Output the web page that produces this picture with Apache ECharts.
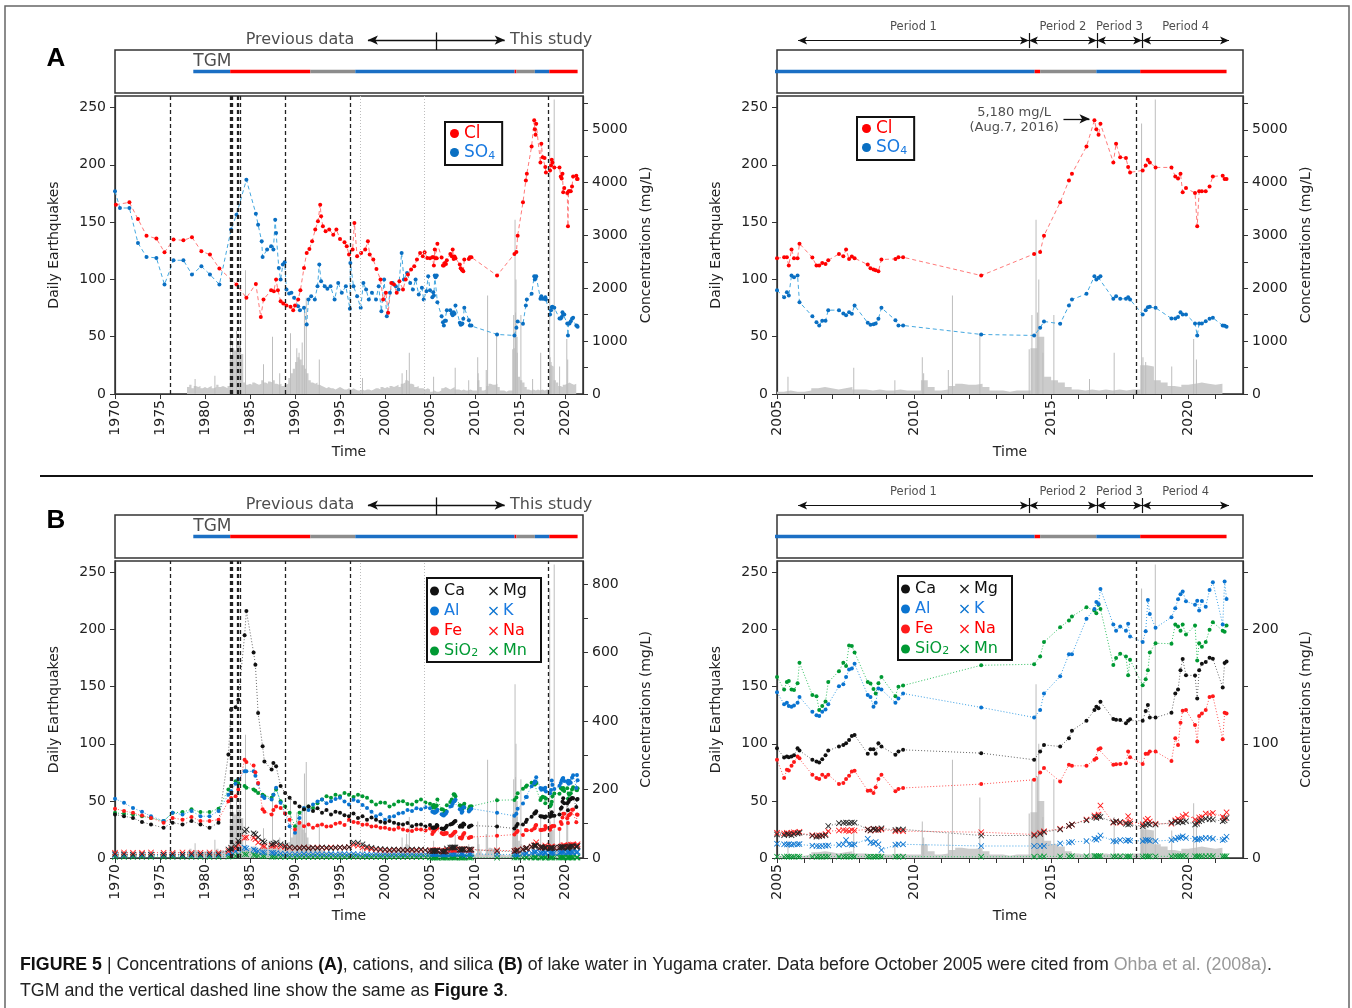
<!DOCTYPE html>
<html>
<head>
<meta charset="utf-8">
<script src="https://cdn.jsdelivr.net/npm/echarts@6/dist/echarts.min.js"></script>
<style>
html, body { margin: 0; padding: 0; background: #fff; }
#main { width: 1352px; height: 1008px; }
</style>
</head>
<body>
<div id="main"></div>
<script>
// ---- data ----
// sampling times after Oct 2005 (this study), shared by all species
var tNew = [2005.00, 2005.26, 2005.36, 2005.43, 2005.53, 2005.62, 2005.75, 2005.82,
  2006.29, 2006.44, 2006.54, 2006.65, 2006.77, 2006.87,
  2007.26, 2007.42, 2007.52, 2007.63, 2007.73, 2007.83,
  2008.31, 2008.41, 2008.52, 2008.60, 2008.70, 2008.81,
  2009.32, 2009.43, 2009.60,
  2012.45,
  2014.38, 2014.60, 2014.74,
  2015.33, 2015.65, 2015.76,
  2016.29, 2016.58, 2016.65, 2016.73, 2016.80,
  2017.27, 2017.37, 2017.52, 2017.73, 2017.81, 2017.88,
  2018.34, 2018.45, 2018.53, 2018.60, 2018.81,
  2019.39, 2019.53, 2019.63, 2019.72, 2019.80, 2019.92,
  2020.25, 2020.33, 2020.40, 2020.50, 2020.64, 2020.78, 2020.90,
  2021.26, 2021.33, 2021.40];

// anions (mg/L)
var clNew = [2569, 2588, 2588, 2431, 2733, 2569, 2569, 2846,
  2582, 2431, 2431, 2481, 2462, 2531,
  2651, 2607, 2733, 2557, 2600, 2569,
  2450, 2380, 2355, 2343, 2324, 2544,
  2557, 2588, 2588,
  2242,
  2651, 2689, 2997,
  3627, 4043, 4169,
  4685, 5180, 5012, 4905, 5113,
  4383, 4735, 4483, 4465, 4295, 4194,
  4232, 4326, 4433, 4383, 4288,
  4288, 4118, 4080, 4169, 3816, 3898,
  3803, 3174, 3835, 3835, 3835, 3929, 4118,
  4131, 4068, 4068];
var so4New = [1965, 1832, 1927, 1864, 2242, 2210, 2242, 1738,
  1473, 1360, 1297, 1385, 1385, 1587,
  1587, 1524, 1492, 1549, 1518, 1675,
  1348, 1310, 1320, 1335, 1423, 1631,
  1398, 1297, 1297,
  1127,
  1108, 1253, 1373,
  1329, 1675, 1788,
  1895, 2229, 2166, 2200, 2229,
  1801, 1851, 1801, 1801, 1832, 1788,
  1505, 1587, 1643, 1650, 1631,
  1429, 1429, 1455, 1549, 1505, 1505,
  1335, 1108, 1335, 1335, 1379, 1423, 1442,
  1297, 1290, 1272];

// previous data (Ohba et al.), anions
var tClPrev = [1970.1, 1971.6, 1972.55, 1973.5, 1974.6, 1975.5, 1976.5, 1977.6, 1978.55, 1979.6, 1980.55, 1981.6,
  1983.5, 1984.6, 1985.65, 1986.2, 1986.5, 1987.35, 1987.65, 1987.9, 1988.1, 1988.4, 1988.7, 1989.05, 1989.5, 1989.8,
  1990.0, 1990.35, 1990.6, 1991.0, 1991.3, 1991.6, 1991.9, 1992.25, 1992.55, 1992.8, 1992.9, 1993.1, 1993.4, 1993.8,
  1994.25, 1994.6, 1995.0, 1995.5, 1995.75, 1996.0, 1996.4, 1996.6, 1996.9, 1997.35, 1997.8, 1998.1, 1998.3, 1998.7,
  1999.05, 1999.5, 1999.8, 2000.1, 2000.35, 2000.7, 2001.0, 2001.3, 2001.6, 2002.0, 2002.3, 2002.55, 2002.9,
  2003.25, 2003.55, 2003.9, 2004.2, 2004.4, 2004.7];
var clPrev = [3583, 3627, 3312, 2997, 2941, 2683, 2922, 2909, 2966, 2701, 2638, 2374,
  2072, 1820, 2084, 1455, 1788, 1965, 1946, 2166, 1965, 1757, 1713, 1675, 1650, 1587,
  1675, 1788, 1965, 2387, 2670, 2745, 2890, 3111, 3268, 3583, 3363, 3174, 3079, 3111,
  3016, 3111, 2934, 2871, 2796, 2638, 2733, 3237, 2607, 2670, 2733, 2890, 2638, 2544,
  2368, 2166, 1788, 1914, 1536, 2103, 2072, 1914, 2135, 1977, 2166, 2261, 2355,
  2418, 2544, 2670, 2607, 2683, 2576];
var tSo4Prev = [1970.0, 1970.55, 1971.6, 1972.55, 1973.5, 1974.6, 1975.5, 1976.5, 1977.6, 1978.55, 1979.6, 1980.55, 1981.6,
  1982.9, 1983.5, 1984.6, 1985.65, 1985.9, 1986.3, 1986.4, 1986.9, 1987.35, 1987.6, 1987.8, 1987.9, 1988.2, 1988.4,
  1988.65, 1988.85, 1989.05, 1989.35, 1989.6, 1989.9, 1990.35, 1990.55, 1991.0, 1991.3, 1991.5, 1991.8, 1992.2,
  1992.5, 1992.7, 1992.9, 1993.3, 1993.6, 1993.95, 1994.4, 1994.8, 1995.2, 1995.65, 1996.1, 1996.15, 1996.5, 1996.9,
  1997.3, 1997.6, 1997.9, 1998.2, 1998.55, 1999.0, 1999.3, 1999.6, 1999.9, 2000.2, 2000.55, 2000.85, 2001.2, 2001.5,
  2001.85, 2002.1, 2002.45, 2002.8, 2003.1, 2003.4, 2003.75, 2004.1, 2004.3, 2004.6, 2004.8];
var so4Prev = [3835, 3520, 3520, 2859, 2594, 2576, 2072, 2531, 2531, 2261, 2418, 2261, 2072,
  3111, 3394, 4055, 3413, 3205, 2890, 2594, 2733, 2796, 2733, 3300, 3048, 2387, 2166,
  2450, 2494, 1977, 1902, 1914, 1820, 1662, 1587, 1631, 1316, 1788, 1851, 1788,
  2040, 2450, 2135, 2040, 1990, 2040, 1788, 2103, 1914, 2040, 1612, 2481, 2040, 1851,
  1631, 2103, 1977, 1788, 1914, 1788, 2040, 1568, 2166, 1473, 1914, 2103, 2040, 1977,
  2670, 2166, 2292, 2103, 1977, 2166, 1883, 2009, 1788, 1946, 2229];

// cations and silica (mg/L), this study
var caNew = [96, 88, 88.8, 88.3, 88.8, 90, 96, 94,
  86, 84.5, 83.6, 86.5, 90, 94,
  97.6, 99, 100.5, 103.4, 106.9, 107.7,
  91.2, 95.2, 95.2, 91.2, 100.5, 97.6,
  90.3, 93.2, 94.7,
  91.8,
  86, 93.2, 99,
  97.6, 104.8, 111.5,
  120.2, 129.5, 132.4, 131, 136.8,
  121.7, 121, 120.8, 117.9, 120.2, 121.4,
  120.2, 128.6, 133.9, 123, 123,
  127.2, 144, 147.5, 164.3, 174.2, 160,
  159.7, 139.7, 164.3, 170, 171.6, 175.4, 174.5,
  149.2, 170.7, 172];
var alNew = [145, 134.7, 135.9, 133, 132.4, 133.6, 136, 141,
  128, 125, 124.3, 128, 130, 134.7,
  150.4, 152, 158.5, 165, 165.8, 170,
  142.6, 141, 132.4, 135.9, 148.4, 147.5,
  135.9, 139.6, 144,
  131.8,
  123, 129.5, 144,
  159, 178.3, 178.3,
  209.4, 218, 224, 222.4, 235.5,
  204.4, 199, 202.7, 199, 205, 194,
  189, 198.6, 225.9, 213.7, 201.5,
  210.8, 218.6, 226.5, 231, 233.4, 224.7,
  221.8, 225.3, 216.6, 225, 220, 234.6, 241.3,
  204.4, 242, 226.8];
var feNew = [86, 70, 77.2, 76.7, 80.7, 84, 88.8, 87.4,
  72.9, 70, 69.1, 72.9, 71, 72.9,
  64.7, 65.6, 69.1, 72, 75.8, 76.4,
  58.9, 59.2, 56.9, 62, 69.1, 72.9,
  58.4, 60.4, 61.3,
  64.7,
  68.5, 74.9, 78.7,
  67, 81.6, 80.7,
  80.7, 86, 87.4, 95.2, 96,
  81.6, 82, 82.2, 83, 93.2, 88.3,
  82.2, 91.2, 91.2, 93.2, 93.2,
  85, 104.8, 99, 118.5, 129, 129.5,
  116.4, 101.9, 124.3, 126.6, 129.5, 141, 141.7,
  104, 127.2, 126.6];
var sio2New = [158.5, 147.5, 154, 155, 147.5, 147, 153, 171,
  142.6, 141.7, 129.5, 133, 137, 154,
  163.5, 171, 168, 186, 185.5, 180,
  154, 152.7, 148, 144, 153, 158.5,
  141.7, 150, 151,
  168.7,
  169.6, 176.5, 189,
  202, 208, 211.4,
  219.5, 216.6, 214.3, 221.8, 218,
  169, 175, 178.9, 176.5, 160, 173.6,
  151.3, 156.5, 164.3, 180, 188,
  187.6, 204.4, 202.7, 199, 204.4, 195.7,
  203.5, 173, 188, 185, 189, 199.8, 206.4,
  199, 198, 203.5];
var mgNew = [20.6, 20, 21, 20.5, 20, 21, 21.5, 22,
  19.5, 18.5, 19, 19.5, 20, 28,
  30.5, 30.8, 31, 30.5, 31, 30.8,
  25, 24, 25.5, 25, 24.5, 26,
  24.5, 25, 25,
  19.7,
  19.7, 21, 22.6,
  25, 28, 29.3,
  33, 36, 35, 36.5, 36,
  31.4, 32, 31.5, 30, 29.3, 30,
  27.9, 29, 30, 29.3, 29.3,
  30.8, 32, 31, 32, 31.4, 32.2,
  29.3, 30, 32.2, 33, 34.3, 34, 33.7,
  32.2, 33, 35];
var kNew = [12.5, 12, 11.8, 12, 11.5, 12, 12, 12.2,
  10.8, 10.5, 10.2, 10.5, 10.8, 11,
  11.5, 12, 15.7, 12, 11.5, 12,
  16.8, 13.4, 13, 14, 12, 7,
  11.5, 12, 12,
  10.5,
  10.5, 10.5, 10.5,
  12.8, 13.5, 14,
  14.8, 16.8, 16, 17.5, 19.7,
  14.8, 14.5, 15.7, 15, 15.7, 15,
  14.8, 15.7, 15.7, 15, 14.8,
  15.7, 16.5, 17.7, 18, 19, 17.5,
  16.8, 16, 16.5, 17, 17.7, 17.5, 16.8,
  15.7, 16.5, 18.6];
var naNew = [22, 21.5, 22, 21, 22, 22.5, 22, 23,
  20, 19.5, 19.7, 20, 21, 23.5,
  24, 24.5, 24, 23.5, 24.5, 24,
  25, 24, 25.5, 24.5, 25, 25,
  23.5, 24, 23.5,
  22.6,
  20.6, 22, 23.5,
  25.5, 28, 29.3,
  33.7, 37.2, 36, 38, 45.9,
  30.8, 32, 30.8, 31, 36.6, 32,
  29.5, 33, 34.3, 32, 30,
  30, 33, 34.3, 33, 36.6, 38,
  33.7, 32, 35.5, 36, 38.9, 38.5, 39.5,
  36, 35, 40];
var mnNew = [1.2, 1.1, 1.3, 1.2, 1.0, 1.2, 1.3, 1.2,
  1.1, 1.0, 1.2, 1.1, 1.2, 1.3,
  1.2, 1.3, 1.2, 1.1, 1.3, 1.2,
  1.2, 1.1, 1.0, 1.2, 1.3, 1.2,
  1.1, 1.2, 1.2,
  1.0,
  1.2, 1.3, 1.4,
  1.4, 1.5, 1.6,
  1.6, 1.8, 1.7, 1.8, 1.8,
  1.5, 1.4, 1.5, 1.4, 1.5, 1.4,
  1.3, 1.5, 1.4, 1.5, 1.4,
  1.5, 1.6, 1.5, 1.6, 1.7, 1.6,
  1.5, 1.4, 1.6, 1.5, 1.6, 1.7, 1.6,
  1.5, 1.6, 1.6];

// cations and silica, previous data
var tBPrev = [1970.0, 1971.0, 1972.0, 1973.0, 1974.0, 1975.4, 1976.4, 1977.5, 1978.5, 1979.5, 1980.5, 1981.5,
  1982.6, 1982.9, 1983.4, 1983.7, 1984.4, 1984.6, 1985.4, 1985.6, 1985.9, 1986.4, 1986.6, 1987.4, 1987.6, 1987.9, 1988.4, 1988.9, 1989.4,
  1990.0, 1990.5, 1991.0, 1991.5, 1992.0, 1992.5, 1993.0, 1993.5, 1994.0, 1994.5, 1995.0, 1995.5, 1996.0, 1996.5, 1997.0, 1997.5, 1998.0, 1998.5, 1999.0, 1999.5,
  2000.0, 2000.5, 2001.0, 2001.5, 2002.0, 2002.5, 2003.0, 2003.5, 2004.0, 2004.5];
var caPrev = [127, 122, 117, 105, 98, 88, 103, 98, 108, 98, 88, 103,
  302, 433, 440, 462, 650, 721, 600, 564, 423, 326, 282, 258, 277, 268, 210, 190, 176,
  161, 150, 142, 150, 137, 145, 132, 140, 127, 135, 132, 125, 122, 130, 117, 122, 112, 118, 112, 106,
  103, 108, 103, 99, 98, 102, 93, 97, 98, 92];
var alPrev = [173, 161, 146, 135, 122, 108, 132, 127, 137, 122, 122, 137,
  185, 195, 217, 230, 253, 253, 253, 240, 217, 180, 175, 171, 185, 205, 161, 130, 93,
  74, 117, 146, 140, 156, 165, 171, 160, 166, 172, 176, 165, 156, 170, 166, 155, 146, 135, 122, 128,
  112, 120, 122, 130, 132, 140, 137, 145, 142, 148];
var fePrev = [144, 137, 132, 124, 117, 103, 117, 112, 120, 108, 108, 112,
  166, 175, 180, 200, 287, 280, 270, 250, 219, 142, 135, 127, 140, 150, 146, 130, 112,
  83, 103, 93, 98, 88, 95, 98, 92, 93, 100, 103, 96, 112, 105, 103, 97, 98, 92, 93, 88,
  88, 85, 83, 88, 83, 80, 79, 84, 83, 80];
var sio2Prev = [132, 129, 127, 122, 117, 108, 132, 134, 142, 134, 134, 144,
  200, 210, 224, 218, 210, 205, 200, 196, 190, 185, 180, 176, 185, 200, 166, 150, 132,
  93, 132, 142, 150, 146, 160, 171, 180, 176, 185, 180, 190, 185, 178, 185, 180, 176, 165, 156, 162,
  161, 150, 156, 165, 166, 158, 156, 165, 171, 162];
var mgPrev = [11, 11, 10, 11, 10, 10, 11, 10, 11, 10, 11, 11,
  25, 30, 35, 50, 78, 83, 72, 69, 60, 49, 45, 40, 42, 45, 40, 36, 32,
  30, 29, 31, 28, 30, 29, 31, 30, 29, 30, 31, 30, 32, 45, 44, 40, 33, 30, 27, 26,
  25, 24, 25, 24, 23, 24, 25, 24, 25, 23];
var naPrev = [15, 16, 15, 15, 16, 15, 15, 16, 15, 15, 16, 15,
  20, 25, 28, 40, 59, 60, 59, 55, 45, 35, 34, 35, 36, 35, 33, 32, 30,
  29, 30, 31, 29, 30, 31, 30, 29, 31, 30, 31, 30, 32, 38, 36, 31, 28, 26, 25, 24,
  23, 22, 23, 24, 23, 22, 23, 22, 23, 22];
var kPrev = [8, 8, 8, 8, 8, 8, 8, 8, 8, 8, 8, 8,
  12, 15, 20, 25, 30, 28, 25, 22, 20, 17, 16, 15.5, 15, 14, 13, 12, 11,
  11, 11, 12, 11, 11, 12, 11, 11, 12, 11, 11, 12, 11, 12, 11, 11, 10, 11, 11, 10,
  11, 10, 11, 11, 10, 11, 11, 10, 11, 11];
var mnPrev = [3, 3, 3, 3, 3, 3, 3, 3, 3, 3, 3, 3,
  4, 5, 6, 8, 11, 10, 9, 8, 7, 5, 5, 4, 4, 4, 4, 3, 3,
  3, 3, 3, 3, 3, 3, 3, 3, 3, 3, 3, 3, 3, 4, 4, 3, 3, 3, 3, 3,
  3, 3, 3, 3, 3, 3, 3, 3, 3, 3];

// daily earthquakes: quarter-year background level from 1978.0, plus spikes
var eqStart = 1978.0, eqStep = 0.25;
var eqBg = [6, 8, 5, 7, 6, 7, 5, 6, 5, 6, 7, 5, 6, 8, 6, 7, 6, 5, 7, 30,
  40, 38, 45, 42, 35, 10, 8, 9, 8, 10, 9, 8, 9, 12, 10, 9, 11, 10, 12, 9,
  8, 9, 7, 8, 9, 14, 18, 22, 28, 32, 30, 25, 22, 18, 12, 10, 9, 10, 8, 7,
  6, 5, 6, 5, 5, 4, 5, 6, 5, 4, 4, 5, 4, 5, 4, 3, 3, 4, 3, 4,
  4, 3, 4, 5, 5, 4, 6, 5, 6, 5, 7, 6, 7, 8, 6, 9, 10, 12, 11, 9,
  8, 6, 7, 5, 5, 4, 5, 4, 2, 3, 2, 2, 3, 5, 6, 5, 4, 5, 6, 4,
  4, 3, 4, 3, 3, 4, 3, 3, 3, 12, 6, 3, 4, 7, 9, 8, 8, 9, 6, 3,
  3, 2, 3, 3, 3, 40, 50, 15, 12, 10, 6, 4, 3, 4, 3, 4, 3, 4, 3, 4,
  4, 25, 24, 12, 10, 7, 6, 8, 9, 10, 9, 8, 9, 8];
var eqSpikes = [[1978.9, 13], [1981.1, 16], [1982.85, 50], [1983.05, 46], [1983.5, 55], [1983.9, 52],
  [1984.5, 108], [1986.5, 26], [1987.5, 50], [1988.3, 18], [1989.5, 53], [1990.2, 40], [1990.45, 36],
  [1990.8, 45], [1991.05, 74], [1991.25, 84], [1992.7, 30], [1997.5, 14], [2001.9, 18], [2002.4, 21],
  [2002.7, 36], [2005.4, 15], [2007.8, 23], [2009.3, 12], [2010.3, 32], [2010.35, 18], [2011.25, 21],
  [2011.4, 86], [2012.4, 53], [2014.2, 39], [2014.3, 69], [2014.45, 152], [2014.5, 71], [2014.55, 100],
  [2014.7, 36], [2015.1, 69], [2016.4, 13], [2017.3, 36], [2018.3, 236], [2018.35, 32], [2018.45, 28],
  [2018.8, 257], [2019.4, 24], [2020.2, 48], [2020.3, 30]];

// TGM states and event lines (same as Figure 3)
var tgmStart = [1978.7, 1982.8, 1991.7, 1996.7, 2014.4, 2014.6, 2016.65, 2018.25];
var tgmEnd = [1982.8, 1991.7, 1996.7, 2014.4, 2014.6, 2016.65, 2018.25, 2021.4];
var tgmState = ['blue', 'red', 'gray', 'blue', 'red', 'gray', 'blue', 'red'];
var dashX = [1976.17, 1982.77, 1982.9, 1983.02, 1983.53, 1983.74, 1983.96, 1988.94, 1996.09, 2018.1];
var dotX = [1997.28, 2004.38];

// annotations
var periodBounds = [2005.77, 2014.19, 2016.67, 2018.32, 2021.49];
var periodNames = ['Period 1', 'Period 2', 'Period 3', 'Period 4'];
var splitYear = 2005.7;
var prevArrow = [1998.1, 2013.3];
var peakText = '5,180 mg/L\n(Aug.7, 2016)';

// ---- chart ----
var FONT = 'DejaVu Sans';
var TXT = '#222';
var TGM_COLOR = { blue: '#1b6fc4', red: '#ff0000', gray: '#8c8c8c' };
var CROSS = 'path://M0,1L1,0L5,4L9,0L10,1L6,5L10,9L9,10L5,6L1,10L0,9L4,5Z';

function zip(t, v) { return t.map(function (x, i) { return [x, v[i]]; }); }

var grids = [], xAxes = [], yAxes = [], series = [], legends = [];

function addPanel(p) {
  var gi = grids.length;
  var mainTop = p.top + 46;
  grids.push({ left: p.left, top: p.top, width: p.width, height: 43, show: true, borderColor: '#333', borderWidth: 1.5 });
  grids.push({ left: p.left, top: mainTop, width: p.width, height: p.mainH, show: true, borderColor: '#333', borderWidth: 1.5 });
  grids.push({ left: p.left, top: p.annTop, width: p.width, height: p.top - p.annTop });
  var xi = xAxes.length, yi = yAxes.length;
  xAxes.push({ gridIndex: gi, type: 'value', min: p.xMin, max: p.xMax, show: false });
  xAxes.push({
    gridIndex: gi + 1, type: 'value', min: p.xMin, max: p.xMax, interval: p.xInt,
    name: 'Time', nameLocation: 'middle', nameGap: 51,
    nameTextStyle: { fontFamily: FONT, fontSize: 14, color: TXT },
    axisLine: { show: true, onZero: false, lineStyle: { color: '#333', width: 1.2 } },
    axisTick: { show: true, length: 5, lineStyle: { color: '#333' } },
    axisLabel: { rotate: 90, fontFamily: FONT, fontSize: 14, color: TXT, margin: 6, showMaxLabel: false,
      formatter: function (v) { return v % 5 === 0 ? String(v) : ''; } },
    splitLine: { show: false }
  });
  xAxes.push({ gridIndex: gi + 2, type: 'value', min: p.xMin, max: p.xMax, show: false });
  yAxes.push({ gridIndex: gi, type: 'value', min: 0, max: 1, show: false });
  yAxes.push({
    gridIndex: gi + 1, type: 'value', position: 'left', min: 0, max: 260, interval: 50,
    name: 'Daily Earthquakes', nameLocation: 'middle', nameGap: 54, nameRotate: 90,
    nameTextStyle: { fontFamily: FONT, fontSize: 14, color: TXT },
    axisLine: { show: true, lineStyle: { color: '#333', width: 1.2 } },
    axisTick: { show: true, length: 5, lineStyle: { color: '#333' } },
    axisLabel: { fontFamily: FONT, fontSize: 14, color: TXT, margin: 9, showMaxLabel: false },
    splitLine: { show: false }
  });
  yAxes.push({
    gridIndex: gi + 1, type: 'value', position: 'right', min: 0, max: p.rMax, interval: p.rInt,
    name: 'Concentrations (mg/L)', nameLocation: 'middle', nameGap: 56, nameRotate: 90,
    nameTextStyle: { fontFamily: FONT, fontSize: 14, color: TXT },
    axisLine: { show: true, lineStyle: { color: '#333', width: 1.2 } },
    axisTick: { show: true, length: 5, lineStyle: { color: '#333' } },
    axisLabel: { fontFamily: FONT, fontSize: 14, color: TXT, margin: 9, showMaxLabel: false,
      formatter: function (v) { return v % p.rStep === 0 ? String(v) : ''; } },
    splitLine: { show: false }
  });
  yAxes.push({ gridIndex: gi + 2, type: 'value', min: 0, max: 1, show: false });
  return { p: p, strip: [xi, yi], left: [xi + 1, yi + 1], right: [xi + 1, yi + 2], ann: [xi + 2, yi + 3] };
}

function on(ax, key) { return { xAxisIndex: ax[key][0], yAxisIndex: ax[key][1] }; }

function addCommon(P, withTgmLabel) {
  var inR = function (x) { return x > P.p.xMin && x < P.p.xMax; };
  // TGM strip
  tgmStart.forEach(function (s, i) {
    series.push(Object.assign({
      type: 'line', silent: true, symbol: 'none', data: [[s, 0.5], [tgmEnd[i], 0.5]],
      lineStyle: { color: TGM_COLOR[tgmState[i]], width: 3.5 }
    }, on(P, 'strip')));
  });
  if (withTgmLabel) {
    series.push(Object.assign({
      type: 'scatter', silent: true, symbolSize: 0, data: [[tgmStart[0], 0.74]],
      label: { show: true, position: 'right', distance: 0, formatter: 'TGM', fontFamily: FONT, fontSize: 17, color: TXT }
    }, on(P, 'strip')));
  }
  // earthquakes
  var bg = eqBg.map(function (v, i) { return [eqStart + i * eqStep, v]; });
  series.push(Object.assign({
    type: 'line', name: 'eqbg', silent: true, symbol: 'none', step: 'end', data: bg, z: 1,
    lineStyle: { width: 0 }, areaStyle: { color: '#cccccc', opacity: 1 }
  }, on(P, 'left')));
  series.push(Object.assign({
    type: 'bar', name: 'eq', silent: true, data: eqSpikes, barWidth: 1, z: 1,
    itemStyle: { color: '#bdbdbd' }
  }, on(P, 'left')));
  // event lines
  var ml = dashX.filter(inR).map(function (x) {
    return { xAxis: x, lineStyle: { type: [4, 3], color: '#222', width: 1.3 } };
  }).concat(dotX.filter(inR).map(function (x) {
    return { xAxis: x, lineStyle: { type: [1, 2], color: '#bdbdbd', width: 1 } };
  }));
  series.push(Object.assign({
    type: 'line', silent: true, data: [], z: 4,
    markLine: { silent: true, symbol: ['none', 'none'], label: { show: false }, data: ml, animation: false }
  }, on(P, 'left')));
}

function addChem(P, name, data, pc, lc, dash, sym, size) {
  series.push(Object.assign({
    type: 'line', name: name, silent: true, data: data, symbol: sym, symbolSize: size, showSymbol: true,
    itemStyle: { color: pc, borderWidth: 0 }, lineStyle: { color: lc, width: 1, type: dash }, z: 3
  }, on(P, 'right')));
}

function addPrevArrow(P) {
  series.push(Object.assign({
    type: 'scatter', silent: true, symbolSize: 0,
    data: [
      { value: [prevArrow[0] - 1.5, 0.45], label: { position: 'left', formatter: 'Previous data' } },
      { value: [prevArrow[1] + 0.6, 0.45], label: { position: 'right', formatter: 'This study' } }
    ],
    label: { show: true, distance: 0, fontFamily: FONT, fontSize: 16, color: TXT },
    markLine: {
      silent: true, symbol: ['arrow', 'arrow'], symbolSize: [7, 10], label: { show: false },
      lineStyle: { color: '#111', width: 1.3, type: 'solid' },
      data: [[{ coord: [prevArrow[0], 0.45] }, { coord: [prevArrow[1], 0.45] }]]
    }
  }, on(P, 'ann')));
  series.push(Object.assign({
    type: 'scatter', silent: true, data: [],
    markLine: {
      silent: true, symbol: ['none', 'none'], label: { show: false },
      lineStyle: { color: '#111', width: 1.3, type: 'solid' },
      data: [[{ coord: [splitYear, 0.8] }, { coord: [splitYear, 0] }]]
    }
  }, on(P, 'ann')));
}

function addPeriods(P) {
  var lbl = periodNames.map(function (n, i) {
    return { value: [(periodBounds[i] + periodBounds[i + 1]) / 2, 0.72], label: { formatter: n } };
  });
  var arrows = periodNames.map(function (n, i) {
    return [{ coord: [periodBounds[i], 0.3] }, { coord: [periodBounds[i + 1], 0.3] }];
  });
  var ticks = periodBounds.slice(1, 4).map(function (x) {
    return [{ coord: [x, 0.53] }, { coord: [x, 0.06] }];
  });
  series.push(Object.assign({
    type: 'scatter', silent: true, symbolSize: 0, data: lbl,
    label: { show: true, position: 'inside', fontFamily: FONT, fontSize: 11.5, color: TXT },
    markLine: {
      silent: true, symbol: ['arrow', 'arrow'], symbolSize: [6, 9], label: { show: false },
      lineStyle: { color: '#111', width: 1.2, type: 'solid' }, data: arrows
    }
  }, on(P, 'ann')));
  series.push(Object.assign({
    type: 'scatter', silent: true, data: [],
    markLine: {
      silent: true, symbol: ['none', 'none'], label: { show: false },
      lineStyle: { color: '#111', width: 1.2, type: 'solid' }, data: ticks
    }
  }, on(P, 'ann')));
}

var AL = addPanel({ left: 115, width: 468, top: 50, annTop: 28, mainH: 298, xMin: 1970, xMax: 2022, xInt: 5, rMax: 5640, rInt: 500, rStep: 1000 });
var AR = addPanel({ left: 777, width: 466, top: 50, annTop: 18, mainH: 298, xMin: 2005, xMax: 2022, xInt: 1, rMax: 5640, rInt: 500, rStep: 1000 });
var BL = addPanel({ left: 115, width: 468, top: 515, annTop: 493, mainH: 297, xMin: 1970, xMax: 2022, xInt: 5, rMax: 867, rInt: 100, rStep: 200 });
var BR = addPanel({ left: 777, width: 466, top: 515, annTop: 483, mainH: 297, xMin: 2005, xMax: 2022, xInt: 1, rMax: 260, rInt: 50, rStep: 100 });

addCommon(AL, true); addCommon(AR, false); addCommon(BL, true); addCommon(BR, false);
addPrevArrow(AL); addPrevArrow(BL);
addPeriods(AR); addPeriods(BR);

var DASH_A = [4, 3], DOT_B = [1, 2];
// anions
[[AL, true], [AR, false]].forEach(function (pp) {
  var P = pp[0], all = pp[1];
  var so4 = (all ? zip(tSo4Prev, so4Prev) : []).concat(zip(tNew, so4New));
  var cl = (all ? zip(tClPrev, clPrev) : []).concat(zip(tNew, clNew));
  addChem(P, 'SO4', so4, '#0a6fc2', '#45a8e0', DASH_A, 'circle', 4);
  addChem(P, 'Cl', cl, '#ff0000', '#ff7a7a', DASH_A, 'circle', 4);
});
// peak note
series.push(Object.assign({
  type: 'scatter', silent: true, symbolSize: 0, data: [[2013.65, 5180]],
  label: { show: true, position: 'inside', formatter: peakText, fontFamily: FONT, fontSize: 13, lineHeight: 15, color: TXT },
  markLine: {
    silent: true, symbol: ['none', 'arrow'], symbolSize: [7, 10], label: { show: false },
    lineStyle: { color: '#111', width: 1.3, type: 'solid' },
    data: [[{ coord: [2015.45, 5208] }, { coord: [2016.4, 5208] }]]
  }
}, on(AR, 'right')));

// cations + silica
var chemB = [
  ['Mn', mnPrev, mnNew, '#009933', '#2fc060', CROSS, 6],
  ['K', kPrev, kNew, '#0a74d0', '#3aa0e6', CROSS, 6],
  ['Na', naPrev, naNew, '#ff1a1a', '#ff5050', CROSS, 6],
  ['Mg', mgPrev, mgNew, '#222', '#666', CROSS, 6],
  ['SiO2', sio2Prev, sio2New, '#009933', '#2fc060', 'circle', 4],
  ['Al', alPrev, alNew, '#0a74d0', '#3aa0e6', 'circle', 4],
  ['Fe', fePrev, feNew, '#ff1a1a', '#ff5050', 'circle', 4],
  ['Ca', caPrev, caNew, '#111', '#666', 'circle', 4]
];
[[BL, true], [BR, false]].forEach(function (pp) {
  var P = pp[0], all = pp[1];
  chemB.forEach(function (c) {
    var d = (all ? zip(tBPrev, c[1]) : []).concat(zip(tNew, c[2]));
    addChem(P, c[0], d, c[3], c[4], DOT_B, c[5], c[6]);
  });
});

// legends
var LEG_COLOR = { Cl: '#ff0000', SO4: '#1a7ae0', Ca: '#111', Mg: '#111', Al: '#1a7ae0', K: '#1a7ae0', Fe: '#ff0000', Na: '#ff0000', SiO2: '#009933', Mn: '#009933' };
function subFmt(name) {
  if (name === 'SO4') return '{t|SO}{s|4}';
  if (name === 'SiO2') return '{t|SiO}{s|2}';
  return '{t|' + name + '}';
}
function legendCol(left, top, names, icon, size, border) {
  return {
    left: left, top: top, orient: 'vertical', padding: border ? [3, 7, 3, 5] : 0, itemGap: border ? 2 : 4,
    itemWidth: 9, itemHeight: 9, selectedMode: false, formatter: subFmt,
    borderColor: '#111', borderWidth: border ? 2 : 0,
    textStyle: { fontFamily: FONT, fontSize: size, rich: {
      t: { fontFamily: FONT, fontSize: size, lineHeight: border ? 19 : 16 },
      s: { fontFamily: FONT, fontSize: 11, lineHeight: border ? 19 : 16, verticalAlign: 'bottom' } } },
    data: names.map(function (n) { return { name: n, icon: icon, textStyle: { color: LEG_COLOR[n] } }; })
  };
}
legends.push(
  legendCol(445, 122, ['Cl', 'SO4'], 'circle', 17, true),
  legendCol(857, 117, ['Cl', 'SO4'], 'circle', 17, true),
  legendCol(430, 583, ['Ca', 'Al', 'Fe', 'SiO2'], 'circle', 16, false),
  legendCol(489, 583, ['Mg', 'K', 'Na', 'Mn'], CROSS, 16, false),
  legendCol(901, 581, ['Ca', 'Al', 'Fe', 'SiO2'], 'circle', 16, false),
  legendCol(960, 581, ['Mg', 'K', 'Na', 'Mn'], CROSS, 16, false)
);

// caption and frame
var CAP = 'Liberation Sans';
function tok(w, c) { return { fontFamily: CAP, fontSize: 17.8, fontWeight: w, fill: c }; }
var graphics = [
  { type: 'rect', silent: true, z: -10, shape: { x: 5, y: 6, width: 1344, height: 1012 }, style: { fill: 'none', stroke: '#666', lineWidth: 1.5 } },
  { type: 'line', silent: true, shape: { x1: 40, y1: 476, x2: 1313, y2: 476 }, style: { stroke: '#111', lineWidth: 2 } },
  { type: 'rect', silent: true, shape: { x: 427, y: 578, width: 114, height: 84 }, style: { fill: 'none', stroke: '#111', lineWidth: 2 } },
  { type: 'rect', silent: true, shape: { x: 898, y: 576, width: 114, height: 84 }, style: { fill: 'none', stroke: '#111', lineWidth: 2 } },
  { type: 'text', silent: true, x: 56, y: 59, style: { text: 'A', fontFamily: CAP, fontSize: 26, fontWeight: 'bold', fill: '#000', align: 'center', verticalAlign: 'middle' } },
  { type: 'text', silent: true, x: 56, y: 521, style: { text: 'B', fontFamily: CAP, fontSize: 26, fontWeight: 'bold', fill: '#000', align: 'center', verticalAlign: 'middle' } },
  { type: 'text', silent: true, x: 20, y: 965, style: {
    text: '{b|FIGURE 5 }{n|| Concentrations of anions }{b|(A)}{n|, cations, and silica }{b|(B)}{n| of lake water in Yugama crater. Data before October 2005 were cited from }{g|Ohba et al. (2008a)}{n|.}',
    verticalAlign: 'middle', rich: { b: tok('bold', '#111'), n: tok('normal', '#222'), g: tok('normal', '#999') } } },
  { type: 'text', silent: true, x: 20, y: 991, style: {
    text: '{n|TGM and the vertical dashed line show the same as }{b|Figure 3}{n|.}',
    verticalAlign: 'middle', rich: { b: tok('bold', '#111'), n: tok('normal', '#222') } } }
];

var chart = echarts.init(document.getElementById('main'), null, { renderer: 'canvas' });
chart.setOption({
  animation: false,
  backgroundColor: '#fff',
  textStyle: { fontFamily: FONT },
  grid: grids,
  xAxis: xAxes,
  yAxis: yAxes,
  legend: legends,
  series: series,
  graphic: graphics
});
</script>
</body>
</html>
